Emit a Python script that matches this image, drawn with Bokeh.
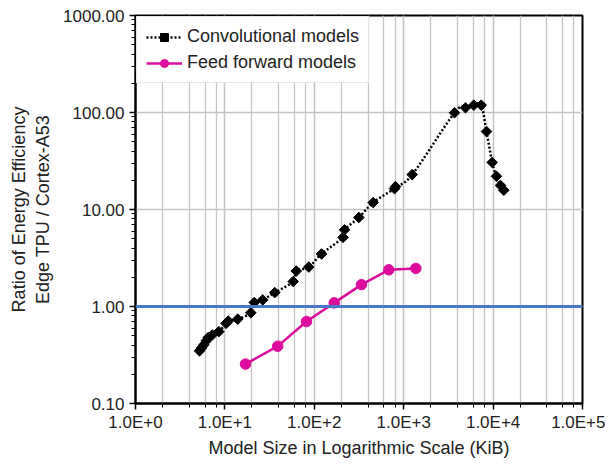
import numpy as np
from bokeh.plotting import figure
from bokeh.models import (Span, PrintfTickFormatter, CustomJSTickFormatter, LogTicker,
                          Legend, LegendItem)
from bokeh.embed import file_html
from bokeh.resources import INLINE

# ---- data (model size KiB, ratio of energy efficiency) ----
conv_size = [5.2, 5.47, 5.81, 6.18, 6.5, 7.21, 8.55, 10.3, 10.9, 13.9, 19.5, 21.3,
             26.5, 36.1, 58.1, 62.8, 86.8, 120.5, 210, 218, 315, 456, 789, 809,
             1245, 3700, 4910, 6080, 7360, 8440, 9770, 10900, 12100, 13180]
conv_ratio = [0.349, 0.372, 0.402, 0.442, 0.478, 0.508, 0.551, 0.670, 0.708, 0.741,
              0.862, 1.10, 1.17, 1.39, 1.81, 2.32, 2.55, 3.48, 5.16, 6.18, 8.27,
              11.8, 16.4, 17.2, 22.9, 99.5, 112, 119, 119, 63.6, 30.6, 22.0, 17.7, 15.8]
ff_size = [17.0, 39.0, 81.8, 167, 337, 681, 1367]
ff_ratio = [0.255, 0.39, 0.70, 1.09, 1.68, 2.39, 2.47]
parity = 1.0

FONT = "Liberation Sans"


def smooth(xs, ys, n=12):
    """Excel-like smoothed line (Catmull-Rom Bezier) in log-log space."""
    P = np.column_stack([np.log10(xs), np.log10(ys)])
    out = [P[0]]
    for i in range(len(P) - 1):
        p0 = P[i - 1] if i > 0 else P[i]
        p1 = P[i]
        p2 = P[i + 1]
        p3 = P[i + 2] if i + 2 < len(P) else P[i + 1]
        c1 = p1 + (p2 - p0) / 6.0
        c2 = p2 - (p3 - p1) / 6.0
        for t in np.linspace(0, 1, n + 1)[1:]:
            b = ((1 - t) ** 3) * p1 + 3 * ((1 - t) ** 2) * t * c1 + 3 * (1 - t) * t * t * c2 + t ** 3 * p2
            out.append(b)
    out = np.array(out)
    return 10 ** out[:, 0], 10 ** out[:, 1]


p = figure(width=605, height=460, x_axis_type="log", y_axis_type="log",
           x_range=(1, 100000), y_range=(0.1, 1000),
           output_backend="svg", toolbar_location=None,
           min_border_left=135, min_border_right=23, min_border_top=15, min_border_bottom=54)

p.outline_line_color = "black"
p.outline_line_width = 2

# grids
p.xgrid.ticker = LogTicker()
p.xgrid.grid_line_color = "#C4C4C4"
p.xgrid.grid_line_width = 1.3
p.xgrid.minor_grid_line_color = "#C4C4C4"
p.xgrid.minor_grid_line_width = 1.3
p.ygrid.grid_line_color = "#C4C4C4"
p.ygrid.grid_line_width = 1.3

# parity line
p.add_layout(Span(location=parity, dimension="width", line_color="#4A78C8", line_width=3))

sx, sy = smooth(conv_size, conv_ratio)
conv_line = p.line(sx, sy, line_color="black", line_width=2.5, line_dash="2 2")
conv_pts = p.scatter(conv_size, conv_ratio, marker="square", angle=np.pi / 4, size=7.5,
                     fill_color="black", line_color="black")

ff_line = p.line(ff_size, ff_ratio, line_color="#DD0C9C", line_width=2.5)
ff_pts = p.scatter(ff_size, ff_ratio, marker="circle", size=10.5,
                   fill_color="#DD0C9C", line_color="#DD0C9C")

# axes
for ax in (p.xaxis[0], p.yaxis[0]):
    ax.axis_line_color = "black"
    ax.axis_line_width = 2
    ax.major_tick_line_color = "black"
    ax.major_tick_line_width = 1.5
    ax.minor_tick_line_color = "black"
    ax.minor_tick_line_width = 1
    ax.major_tick_in = 0
    ax.major_tick_out = 6
    ax.minor_tick_in = 0
    ax.minor_tick_out = 4
    ax.major_label_text_font = FONT
    ax.major_label_text_font_size = "17px"
    ax.major_label_text_color = "#222222"
    ax.axis_label_text_font = FONT
    ax.axis_label_text_font_size = "18px"
    ax.axis_label_text_font_style = "normal"
    ax.axis_label_text_color = "#222222"

p.xaxis[0].ticker = LogTicker(desired_num_ticks=6)
p.xaxis[0].formatter = CustomJSTickFormatter(code="""
const e = Math.round(Math.log10(tick));
return "1.0E" + (e >= 0 ? "+" : "-") + Math.abs(e);
""")
p.xaxis[0].axis_label = "Model Size in Logarithmic Scale (KiB)"
p.xaxis[0].major_label_standoff = 3
p.xaxis[0].axis_label_standoff = 3

p.yaxis[0].formatter = PrintfTickFormatter(format="%.2f")
p.yaxis[0].axis_label = "Ratio of Energy Efficiency\nEdge TPU / Cortex-A53"
p.yaxis[0].major_label_standoff = 5
p.yaxis[0].axis_label_standoff = 7

# legend
lg = Legend(items=[
    LegendItem(label="Convolutional models", renderers=[conv_line, conv_pts]),
    LegendItem(label="Feed forward models", renderers=[ff_line, ff_pts]),
])
lg.location = "top_left"
lg.margin = 1
lg.padding = 9
lg.spacing = 5
lg.glyph_width = 36
lg.glyph_height = 20
lg.label_standoff = 5
lg.label_text_font = FONT
lg.label_text_font_size = "18px"
lg.label_text_color = "#222222"
lg.border_line_color = "#D0D0D0"
lg.border_line_width = 1
lg.background_fill_color = "white"
lg.background_fill_alpha = 1.0
p.add_layout(lg)

open("out.html", "w").write(file_html(p, INLINE))
